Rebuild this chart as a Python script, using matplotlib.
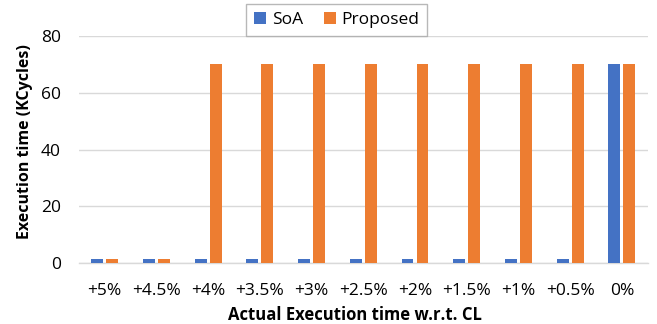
import numpy as np
import matplotlib.pyplot as plt

plt.rcParams['font.family'] = ['Open Sans', 'DejaVu Sans']

categories = ['+5%', '+4.5%', '+4%', '+3.5%', '+3%', '+2.5%', '+2%', '+1.5%', '+1%', '+0.5%', '0%']
soa = [1.7, 1.7, 1.7, 1.7, 1.7, 1.7, 1.7, 1.7, 1.7, 1.7, 70]
proposed = [1.7, 1.7, 70, 70, 70, 70, 70, 70, 70, 70, 70]

fig = plt.figure(figsize=(6.57, 3.24), dpi=100)
ax = fig.add_axes([0.120, 0.187, 0.866, 0.703])

x = np.arange(len(categories))
w = 0.23
ax.bar(x - w/2 - 0.03, soa, w, color='#4472C4', label='SoA', zorder=3)
ax.bar(x + w/2 + 0.03, proposed, w, color='#ED7D31', label='Proposed', zorder=3)

ax.set_xlim(-0.5, len(categories) - 0.5)
ax.set_ylim(0, 80)
ax.set_yticks([0, 20, 40, 60, 80])
ax.set_xticks(x)
ax.set_xticklabels(categories)
ax.tick_params(axis='both', length=0, labelsize=12.5, colors='black')
ax.tick_params(axis='x', pad=14)
ax.tick_params(axis='y', pad=13)
ax.grid(axis='y', color='#D9D9D9', linewidth=1, zorder=0)
for s in ['top', 'right', 'left']:
    ax.spines[s].set_visible(False)
ax.spines['bottom'].set_color('#D9D9D9')
ax.spines['bottom'].set_linewidth(1)

ax.set_xlabel('Actual Execution time w.r.t. CL', fontsize=12, fontweight='bold')
ax.xaxis.set_label_coords(0.485, -0.185)
ax.set_ylabel('Execution time (KCycles)', fontsize=11.5, fontweight='bold')
ax.yaxis.set_label_coords(-0.08, 0.535)

leg = ax.legend(loc='upper center', bbox_to_anchor=(0.453, 1.14), ncol=2, fontsize=12.5,
                frameon=True, fancybox=False, edgecolor='#A6A6A6', handlelength=0.7,
                handleheight=0.7, columnspacing=1.2, handletextpad=0.3, borderpad=0.45,
                borderaxespad=0)
leg.get_frame().set_linewidth(1)

fig.savefig('out.png', dpi=100)
